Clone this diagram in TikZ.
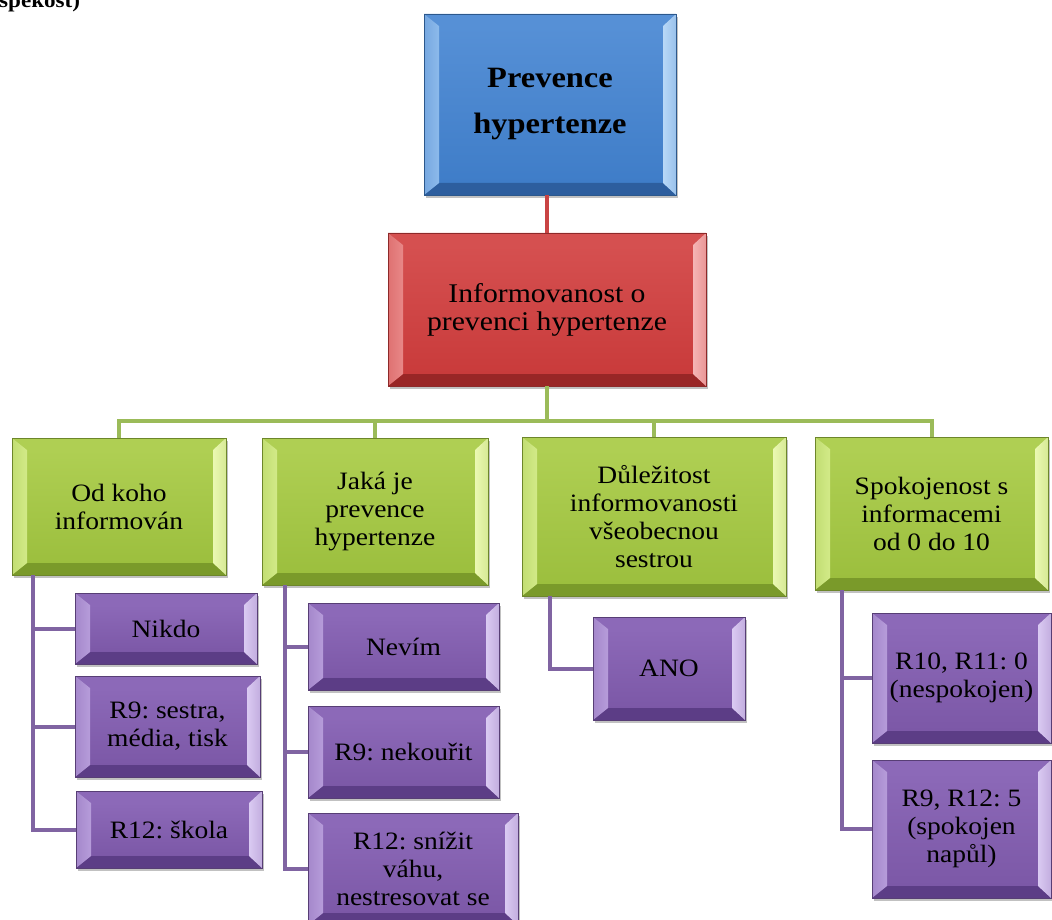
\documentclass[tikz,border=0pt]{standalone}
\usepackage{fontspec}
\setmainfont{Liberation Serif}[FakeStretch=1.1]
\usetikzlibrary{shadows}

% face / top facet / bottom facet / left facet / right facet
\definecolor{blueface}{HTML}{3F7DC8}
\definecolor{bluetop}{HTML}{5690D6}
\definecolor{bluebot}{HTML}{2D5E9E}
\definecolor{blueleft}{HTML}{8DBAEB}
\definecolor{blueright}{HTML}{B8D8F7}
\definecolor{redface}{HTML}{C93B3B}
\definecolor{redtop}{HTML}{D55050}
\definecolor{redbot}{HTML}{992626}
\definecolor{redleft}{HTML}{E88888}
\definecolor{redright}{HTML}{F5B5B5}
\definecolor{greenface}{HTML}{9CBF3E}
\definecolor{greentop}{HTML}{AFCF53}
\definecolor{greenbot}{HTML}{7A9A2A}
\definecolor{greenleft}{HTML}{D2EA88}
\definecolor{greenright}{HTML}{EAF8B2}
\definecolor{purpleface}{HTML}{7C58A7}
\definecolor{purpletop}{HTML}{8C69B8}
\definecolor{purplebot}{HTML}{5C3D86}
\definecolor{purpleleft}{HTML}{B69CDA}
\definecolor{purpleright}{HTML}{DACAF2}
\definecolor{redline}{HTML}{C94444}
\definecolor{greenline}{HTML}{9BBB59}
\definecolor{purpleline}{HTML}{8064A2}

\tikzset{
  bevel/.style n args={5}{
    fill=#1, draw=#1!70!black, line width=0.7pt, inner sep=0pt, outer sep=0pt,
    align=center, text=black,
    drop shadow={shadow xshift=2pt, shadow yshift=-3pt, opacity=0.35, fill=black!70},
    path picture={
      \coordinate (bb-sw) at (path picture bounding box.south west);
      \coordinate (bb-ne) at (path picture bounding box.north east);
      \coordinate (bb-nw) at (bb-sw |- bb-ne);
      \coordinate (bb-se) at (bb-ne |- bb-sw);
      \coordinate (in-sw) at ([shift={(15pt,12pt)}]bb-sw);
      \coordinate (in-ne) at ([shift={(-13pt,-12pt)}]bb-ne);
      \coordinate (in-nw) at ([shift={(15pt,-12pt)}]bb-nw);
      \coordinate (in-se) at ([shift={(-13pt,12pt)}]bb-se);
      \shade[top color=#2, bottom color=#1] (in-sw) rectangle (in-ne);
      \fill[#2] (bb-nw) -- (bb-ne) -- (in-ne) -- (in-nw) -- cycle;
      \fill[#3] (bb-sw) -- (bb-se) -- (in-se) -- (in-sw) -- cycle;
      \shade[left color=#4!70!#1, right color=#4] (bb-sw) -- (bb-nw) -- (in-nw) -- (in-sw) -- cycle;
      \shade[left color=#5, right color=#5!75!#1] (bb-se) -- (bb-ne) -- (in-ne) -- (in-se) -- cycle;
    }},
  bluebox/.style={bevel={blueface}{bluetop}{bluebot}{blueleft}{blueright},
    font=\fontsize{29.5}{46}\selectfont\bfseries\frenchspacing},
  redbox/.style={bevel={redface}{redtop}{redbot}{redleft}{redright},
    font=\fontsize{27}{28}\selectfont\frenchspacing},
  greenbox/.style={bevel={greenface}{greentop}{greenbot}{greenleft}{greenright},
    font=\fontsize{25}{28}\selectfont\frenchspacing},
  purplebox/.style={bevel={purpleface}{purpletop}{purplebot}{purpleleft}{purpleright},
    font=\fontsize{25}{28}\selectfont\frenchspacing},
  redlink/.style={draw=redline, line width=4pt},
  greenlink/.style={draw=greenline, line width=4pt},
  purplelink/.style={draw=purpleline, line width=4pt},
}

\begin{document}
\begin{tikzpicture}[x=1pt, y=-1pt]
\useasboundingbox (0,0) rectangle (1052,920);
\clip (0,0) rectangle (1052,920);

% tail of the caption line above the chart
\node[anchor=base west, inner sep=0pt, font=\fontsize{21}{24}\selectfont\bfseries]
  (capt) at (-1,7.5) {spekost)};

% boxes
\node[bluebox, minimum width=252pt, minimum height=181pt] (top) at (550,104.5)
  {Prevence\\hypertenze};
\node[redbox, minimum width=318pt, minimum height=153pt] (red) at (547,309.5)
  {Informovanost o\\prevenci hypertenze};

\node[greenbox, minimum width=214pt, minimum height=137pt] (g1) at (119,506.5)
  {Od koho\\informován};
\node[greenbox, minimum width=226pt, minimum height=147pt] (g2) at (375,511.5)
  {Jaká je\\prevence\\hypertenze};
\node[greenbox, minimum width=264pt, minimum height=159pt] (g3) at (654,516.5)
  {Důležitost\\informovanosti\\všeobecnou\\sestrou};
\node[greenbox, minimum width=233pt, minimum height=153pt] (g4) at (931.5,513.5)
  {Spokojenost s\\informacemi\\od 0 do 10};

\node[purplebox, minimum width=182pt, minimum height=71pt] (p1a) at (166,628.5) {Nikdo};
\node[purplebox, minimum width=185pt, minimum height=101pt] (p1b) at (167.5,726.5) {R9: sestra,\\média, tisk};
\node[purplebox, minimum width=186pt, minimum height=77pt] (p1c) at (169,829.5) {R12: škola};

\node[purplebox, minimum width=191pt, minimum height=87pt] (p2a) at (403.5,646.5) {Nevím};
\node[purplebox, minimum width=191pt, minimum height=92pt] (p2b) at (403.5,752) {R9: nekouřit};
\node[purplebox, minimum width=210pt, minimum height=112pt] (p2c) at (413,869) {R12: snížit\\váhu,\\nestresovat se};

\node[purplebox, minimum width=152pt, minimum height=103pt] (p3a) at (669,668.5) {ANO};

\node[purplebox, minimum width=179pt, minimum height=130pt] (p4a) at (961.5,678) {R10, R11: 0\\(nespokojen)};
\node[purplebox, minimum width=179pt, minimum height=138pt] (p4b) at (961.5,829) {R9, R12: 5\\(spokojen\\napůl)};

% connectors
\draw[redlink] (red.north |- top.south) -- (red.north);

\coordinate (bus) at (547,421);
\draw[greenlink] (red.south) -- (bus);
\draw[greenlink] (g1.north) -- (g1.north |- bus) -- (g4.north |- bus) -- (g4.north);
\draw[greenlink] (g2.north) -- (g2.north |- bus);
\draw[greenlink] (g3.north) -- (g3.north |- bus);

\coordinate (t1) at ([xshift=21pt]g1.south west);
\draw[purplelink] (t1) |- (p1c.west);
\draw[purplelink] (p1a.west) -- (p1a.west -| t1);
\draw[purplelink] (p1b.west) -- (p1b.west -| t1);

\coordinate (t2) at ([xshift=23pt]g2.south west);
\draw[purplelink] (t2) |- (p2c.west);
\draw[purplelink] (p2a.west) -- (p2a.west -| t2);
\draw[purplelink] (p2b.west) -- (p2b.west -| t2);

\coordinate (t3) at ([xshift=28pt]g3.south west);
\draw[purplelink] (t3) |- (p3a.west);

\coordinate (t4) at ([xshift=27pt]g4.south west);
\draw[purplelink] (t4) |- (p4b.west);
\draw[purplelink] (p4a.west) -- (p4a.west -| t4);
\end{tikzpicture}
\end{document}
